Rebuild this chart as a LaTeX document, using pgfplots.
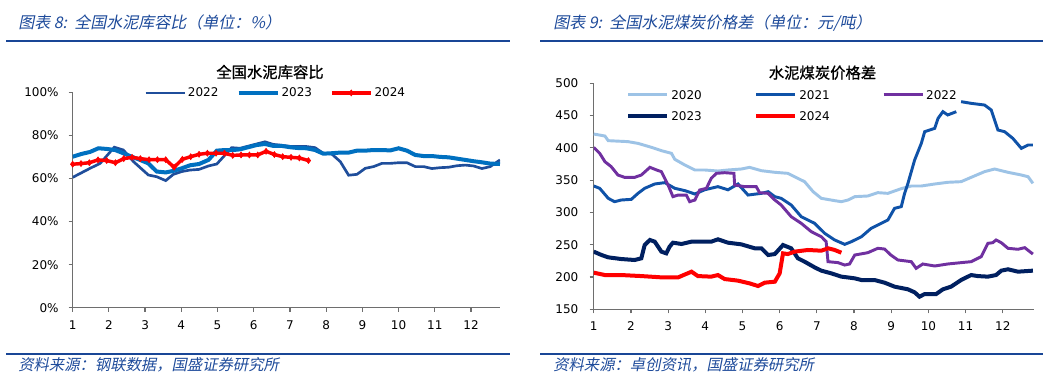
\documentclass[border=0pt]{standalone}
\usepackage{pgfplots}
\pgfplotsset{compat=1.18}
\usepackage{fontspec}
\setmainfont{DejaVu Sans}
\newfontfamily\cjk{Noto Sans CJK SC}
\newfontfamily\cjkit[FakeSlant=0.2]{Noto Sans CJK SC}
\newfontfamily\cjkb[FakeBold=1]{Noto Sans CJK SC}
\definecolor{hdr}{RGB}{30,75,155}
\definecolor{hline}{RGB}{25,70,150}
\definecolor{cA}{RGB}{31,78,155}
\definecolor{cB}{RGB}{0,112,192}
\definecolor{c20}{RGB}{157,195,230}
\definecolor{c21}{RGB}{15,82,168}
\definecolor{c22}{RGB}{112,48,160}
\definecolor{c23}{RGB}{0,32,96}
\definecolor{axgray}{RGB}{110,110,110}
\pgfplotsset{
  mystyle/.style={
    scale only axis,
    axis lines=left,
    axis line style={-, draw=axgray, line width=0.9pt},
    tick align=outside,
    major tick length=3pt,
    tick style={axgray, line width=0.9pt},
    ticklabel style={font=\fontsize{9}{10}\selectfont},
    xticklabel style={yshift=-3pt},
    /pgf/number format/assume math mode=true,
    xtick={1,2,...,12},
    legend cell align=left,
    legend image code/.code={\draw[mark repeat=2,mark phase=2,#1] plot coordinates {(0pt,0pt) (14.6pt,0pt) (29.25pt,0pt)};},
  }
}
\begin{document}
\begin{tikzpicture}[x=0.75pt,y=0.75pt]
\useasboundingbox (0,0) rectangle (1056,388);
\fill[white] (0,0) rectangle (1056,388);
% headers
\node[anchor=west, inner sep=0pt, text=hdr, font=\cjkit\fontsize{12}{14}\selectfont] at (18,365.3) {图表 8:\ \ 全国水泥库容比（单位：\%）};
\node[anchor=west, inner sep=0pt, text=hdr, font=\cjkit\fontsize{12}{14}\selectfont] at (553,365.3) {图表 9:\ \ 全国水泥煤炭价格差（单位：元/吨）};
\draw[hline, line width=1.6pt] (6,347.3) -- (510,347.3);
\draw[hline, line width=1.6pt] (540,347.3) -- (1043,347.3);
\draw[hline, line width=1.6pt] (6,34) -- (510,34);
\draw[hline, line width=1.6pt] (540,34) -- (1043,34);
\node[anchor=west, inner sep=0pt, text=hdr, font=\cjkit\fontsize{11.5}{13}\selectfont] at (18,23) {资料来源：钢联数据，国盛证券研究所};
\node[anchor=west, inner sep=0pt, text=hdr, font=\cjkit\fontsize{11.5}{13}\selectfont] at (553,23) {资料来源：卓创资讯，国盛证券研究所};
% chart titles
\node[font=\cjkb\fontsize{11.5}{13}\selectfont, inner sep=0pt] at (270,316) {全国水泥库容比};
\node[font=\cjkb\fontsize{11.5}{13}\selectfont, inner sep=0pt] at (822.5,315.3) {水泥煤炭价格差};

% left chart
\begin{axis}[mystyle,
  at={(54.5pt,60.2pt)}, anchor=south west,
  width=320.5pt, height=161.6pt,
  xmin=1, xmax=12.8, ymin=0, ymax=100,
  ytick={0,20,...,100},
  yticklabel={\pgfmathprintnumber{\tick}\%},
  yticklabel style={xshift=-4pt},
  legend style={at={(0.167,0.997)}, anchor=west, draw=none, fill=none,
    legend columns=3, font=\fontsize{9}{10}\selectfont, inner sep=0pt,
    nodes={inner sep=1.5pt},
    /tikz/every even column/.append style={column sep=12pt}},
]
\addplot[cA, line width=2pt] coordinates {
(1,60.5)(1.48,64.7)(1.76,67)(2.15,74.5)(2.4,73.2)(2.68,67.8)(3.09,61.6)(3.32,60.8)(3.57,59)(3.78,61.9)(4.01,63.2)(4.24,63.9)(4.49,64.2)(4.75,65.8)(4.98,66.7)(5.16,70)(5.39,74.3)(5.62,74)(5.85,75)(6.08,76)(6.31,77)(6.54,75.8)(6.77,75.4)(7.0,74.9)(7.23,74.8)(7.46,74.8)(7.69,74.3)(7.92,71.7)(8.15,71.4)(8.39,67.8)(8.62,61.5)(8.85,61.9)(9.08,64.7)(9.31,65.5)(9.54,67)(9.77,67)(10.0,67.3)(10.23,67.3)(10.46,65.5)(10.69,65.5)(10.92,64.6)(11.15,65)(11.38,65.2)(11.61,65.9)(11.84,66.2)(12.07,65.8)(12.3,64.6)(12.53,65.5)(12.8,68.6)
};
\addlegendentry{2022}
\addplot[cB, line width=3pt] coordinates {
(1,70.1)(1.25,71.4)(1.48,72.3)(1.71,74)(1.94,73.7)(2.17,73.2)(2.4,71.7)(2.63,70.1)(2.86,68.6)(3.09,67)(3.32,63.2)(3.57,62.8)(3.78,63.5)(4.01,64.7)(4.24,66.1)(4.49,66.7)(4.75,68.6)(4.98,72.9)(5.21,73.2)(5.44,73.2)(5.62,73.5)(5.85,74.5)(6.08,75.5)(6.31,76)(6.54,75.1)(6.77,75.1)(7.0,74.5)(7.23,74.1)(7.46,74)(7.69,73.2)(7.92,71.5)(8.15,71.7)(8.39,72)(8.62,72)(8.85,72.9)(9.08,72.9)(9.31,73.2)(9.54,73.2)(9.77,73)(10.0,74)(10.23,72.9)(10.46,70.9)(10.69,70.4)(10.92,70.4)(11.15,70)(11.38,69.8)(11.61,69.2)(11.84,68.6)(12.07,68)(12.3,67.5)(12.53,66.9)(12.8,66.7)
};
\addlegendentry{2023}
\addplot[red, line width=2.6pt, mark=diamond*, mark size=2.2pt, mark options={solid, line width=0.5pt}] coordinates {
(1,66.6)(1.23,66.9)(1.46,67.3)(1.70,68.6)(1.94,68.3)(2.18,67.3)(2.41,69.2)(2.64,69.8)(2.87,69.2)(3.11,68.7)(3.34,68.7)(3.57,68.7)(3.80,65.2)(4.03,68.9)(4.26,70.1)(4.49,71.2)(4.72,71.7)(4.96,71.7)(5.19,71.7)(5.42,70.7)(5.65,70.9)(5.88,70.9)(6.11,70.9)(6.34,72.6)(6.57,71.1)(6.80,70.1)(7.03,69.8)(7.26,69.5)(7.51,68.3)
};
\addlegendentry{2024}
\end{axis}

% right chart
\begin{axis}[mystyle,
  at={(445.3pt,59.0pt)}, anchor=south west,
  width=330.2pt, height=169.5pt,
  xmin=1, xmax=12.84, ymin=150, ymax=500,
  ytick={150,200,...,500},
  yticklabel style={xshift=-5pt},
  legend style={at={(0.0734,0.902)}, anchor=west, draw=none, fill=none,
    legend columns=3, font=\fontsize{9}{10}\selectfont, inner sep=0pt,
    nodes={inner sep=1.5pt, text height=6.8pt, text depth=0pt},
    row sep=6pt,
    /tikz/every even column/.append style={column sep=37.8pt}},
]
\addplot[c20, line width=2.2pt] coordinates {
(1,421.5)(1.30,418.4)(1.39,411.2)(1.92,409.7)(2.19,407)(2.55,400.9)(2.82,395.7)(3.09,391.6)(3.18,382.3)(3.45,373.5)(3.72,365.8)(3.98,365.8)(4.34,364.2)(4.61,365.8)(4.97,367.3)(5.19,369.9)(5.51,364.7)(5.87,362.2)(6.22,360.6)(6.4,355.4)(6.67,347.7)(6.9,332.2)(7.12,321.9)(7.48,318.3)(7.66,316.7)(7.84,319.3)(8.02,324.5)(8.37,325.5)(8.64,330.7)(8.91,329.6)(9.27,336.9)(9.54,341)(9.81,341)(10.17,344.1)(10.52,346.7)(10.88,347.7)(11.15,354.4)(11.51,363.2)(11.78,367.3)(12.14,362.2)(12.5,358)(12.68,355.4)(12.81,345.1)
};
\addlegendentry{2020}
\addplot[c21, line width=2.2pt] coordinates {
(1,341)(1.16,337.4)(1.39,321.9)(1.56,316.7)(1.74,319.3)(2.01,320.3)(2.19,329.6)(2.37,337.4)(2.64,344.1)(2.91,346.2)(3.18,337.4)(3.45,333.8)(3.72,328.6)(3.98,335.1)(4.34,340)(4.61,335.1)(4.88,344.1)(5.15,327)(5.51,329.6)(5.69,332.2)(5.87,324.5)(6.04,321.9)(6.31,311.6)(6.58,293.5)(6.94,283.2)(7.21,267.7)(7.48,257.4)(7.75,250.6)(7.93,254.8)(8.2,262.5)(8.46,275.4)(8.64,280.6)(8.91,288.3)(9.09,306.4)(9.27,309)(9.36,329.6)(9.45,345.1)(9.63,381.3)(9.81,407.1)(9.9,425.1)(10.17,430.3)(10.26,445.8)(10.39,456.1)(10.52,451)(10.75,456.1)
};
\addlegendentry{2021}
\addplot[c22, line width=2.2pt] coordinates {
(1,400.9)(1.16,391.6)(1.3,378.7)(1.47,370.9)(1.65,358)(1.83,354.4)(2.1,354.4)(2.28,358)(2.51,369.9)(2.69,365.8)(2.82,363.2)(3.0,342.5)(3.13,324.5)(3.27,327)(3.49,327)(3.58,316.7)(3.72,319.3)(3.85,334.8)(4.03,337.4)(4.16,352.9)(4.3,360.6)(4.52,361.6)(4.77,360.6)(4.79,342.5)(5.06,340)(5.37,340)(5.46,330.7)(5.69,329.6)(5.87,319.3)(6.04,311.6)(6.31,293.5)(6.58,283.2)(6.85,270.3)(7.12,262.5)(7.25,254.8)(7.3,223.8)(7.57,222.3)(7.75,218.6)(7.88,220.2)(8.02,234.1)(8.37,237.7)(8.64,244.5)(8.82,243.4)(8.99,234.1)(9.18,226.4)(9.54,223.8)(9.67,213.5)(9.85,220.2)(10.17,217.1)(10.52,220.2)(10.88,222.3)(11.15,223.8)(11.42,231.6)(11.6,252.2)(11.73,253.2)(11.82,257.4)(11.96,253.2)(12.14,244.5)(12.41,243)(12.59,245.5)(12.81,235.6)
};
\addlegendentry{2022}
\addplot[c23, line width=3pt] coordinates {
(1,239.3)(1.21,234.1)(1.39,230.5)(1.74,227.9)(2.1,226.4)(2.28,229)(2.37,249.6)(2.51,257.4)(2.64,254.8)(2.82,239.3)(2.95,236.7)(3.04,247)(3.13,253.2)(3.36,251.2)(3.63,254.8)(3.89,254.8)(4.16,254.8)(4.34,258.4)(4.61,253.2)(4.97,250.6)(5.33,244.5)(5.51,244.5)(5.69,234.1)(5.87,235.6)(6.09,249.6)(6.31,244.5)(6.49,229)(6.67,223.8)(6.94,215)(7.12,209.9)(7.39,205.7)(7.66,200.6)(8.02,198)(8.2,195.4)(8.55,195.4)(8.82,191.3)(9.09,185.1)(9.45,181)(9.63,176.3)(9.76,169.6)(9.9,173.7)(10.21,173.7)(10.39,181)(10.61,185.1)(10.88,195.4)(11.15,203.1)(11.33,201.5)(11.6,200.6)(11.82,203.1)(11.96,209.9)(12.14,212)(12.41,208.3)(12.81,209.9)
};
\addlegendentry{2023}
\addplot[red, line width=3pt] coordinates {
(1,206.8)(1.3,203.1)(1.74,203.1)(2.28,201.5)(2.82,199.5)(3.27,199.5)(3.63,208.3)(3.8,201.5)(4.16,200.6)(4.34,203.1)(4.52,196.9)(4.88,194.4)(5.19,190.2)(5.42,186.1)(5.6,191.3)(5.87,192.8)(6.0,205.7)(6.09,236.7)(6.22,235.6)(6.4,239.3)(6.76,241.9)(7.12,240.8)(7.3,244.5)(7.48,241.9)(7.66,237.7)
};
\addlegendentry{2024}
\addplot[c21, line width=2.2pt, forget plot] coordinates {
(10.88,471.6)(11.15,469)(11.51,466.4)(11.69,458.7)(11.87,427.7)(12.05,425.1)(12.27,414.8)(12.5,399.3)(12.68,404.5)(12.81,404.5)
};
\end{axis}
\end{tikzpicture}
\end{document}
